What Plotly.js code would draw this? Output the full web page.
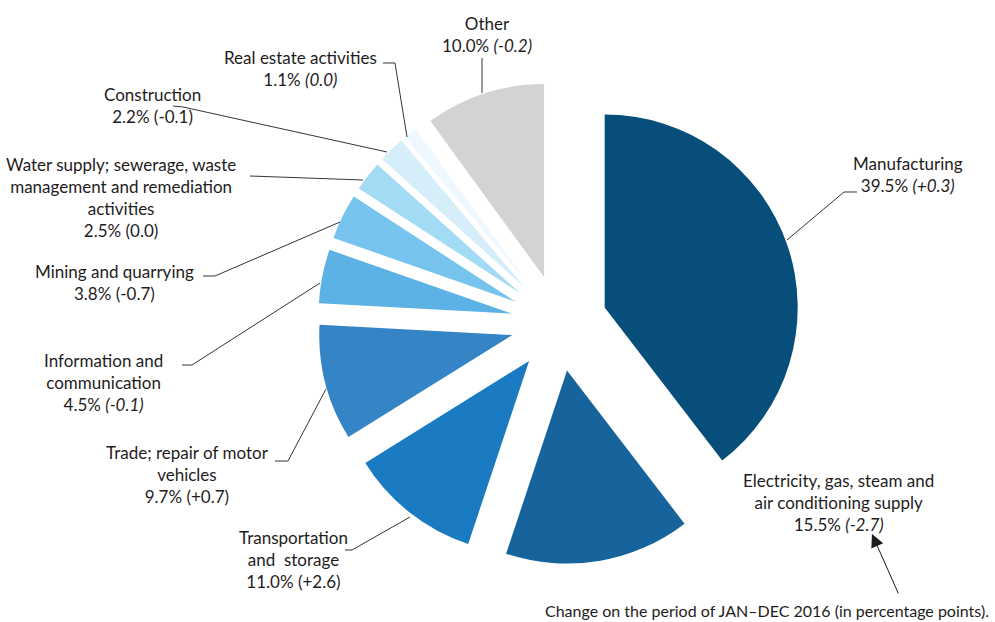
<!DOCTYPE html>
<html>
<head>
<meta charset="utf-8">
<script src="https://cdn.plot.ly/plotly-3.0.1.min.js"></script>
<style>html,body{margin:0;padding:0;background:#fff;}#chart{width:995px;height:622px;}</style>
</head>
<body>
<div id="chart"></div>
<script>
// ---- data ----
const sectors = [
  "Manufacturing",
  "Electricity, gas, steam and air conditioning supply",
  "Transportation and storage",
  "Trade; repair of motor vehicles",
  "Information and communication",
  "Mining and quarrying",
  "Water supply; sewerage, waste management and remediation activities",
  "Construction",
  "Real estate activities",
  "Other"
];
const shares = [39.5, 15.5, 11.0, 9.7, 4.5, 3.8, 2.5, 2.2, 1.1, 10.0];
const changes = ["+0.3", "-2.7", "+2.6", "+0.7", "-0.1", "-0.7", "0.0", "-0.1", "0.0", "-0.2"];
const italicChange = [true, true, false, false, true, false, false, false, true, true];
const labelLines = [
  "Manufacturing",
  "Electricity, gas, steam and<br>air conditioning supply",
  "Transportation<br>and&nbsp; storage",
  "Trade; repair of motor<br>vehicles",
  "Information and<br>communication",
  "Mining and quarrying",
  "Water supply; sewerage, waste<br>management and remediation<br>activities",
  "Construction",
  "Real estate activities",
  "Other"
];
const colors = ["#074e7b", "#17649d", "#1b7bc2", "#3484c6", "#5db2e5", "#76c4ed", "#a3dbf5", "#d6edfa", "#eef8fe", "#d1d3d4"];
const footnote = "Change on the period of JAN\u2013DEC 2016 (in percentage points).";

// ---- layout helpers (pixel -> paper) ----
const W = 995, H = 622;
const px = x => x / W;
const py = y => 1 - y / H;

// label placement (pixel centre of each label block)
const labelPos = [
  [908, 175], [838, 502], [293, 559], [187, 474], [103, 383],
  [114, 282], [121, 197], [152, 106], [300, 68], [487, 35]
];
// leader lines (pixel polylines)
const leaders = [
  [[787, 240], [844, 192], [857, 192]],
  null,
  [[410, 517], [352, 550], [345, 550]],
  [[326, 389], [288, 461], [275, 461]],
  [[320, 283], [192, 365], [182, 365]],
  [[340, 222], [215, 276], [203, 276]],
  [[363, 180], [250, 176]],
  [[387, 152], [183, 107], [173, 106]],
  [[407, 137], [395, 63], [383, 63]],
  [[482, 93], [482, 58]]
];

const font = {family: "Lato, 'Open Sans', sans-serif", size: 17, color: "#1f1c1d"};

const annotations = sectors.map((s, i) => {
  const ch = italicChange[i] ? "<i>(" + changes[i] + ")</i>" : "(" + changes[i] + ")";
  return {
    xref: "paper", yref: "paper",
    x: px(labelPos[i][0]), y: py(labelPos[i][1]),
    xanchor: "center", yanchor: "middle", align: "center",
    text: labelLines[i] + "<br>" + shares[i].toFixed(1) + "% " + ch,
    showarrow: false, font: font
  };
});
annotations.push({
  xref: "paper", yref: "paper",
  x: px(767), y: py(610), xanchor: "center", yanchor: "middle",
  text: footnote, showarrow: false,
  font: {family: font.family, size: 16, color: "#1f1c1d"}
});
annotations.push({
  xref: "paper", yref: "paper",
  x: px(872), y: py(534), text: "", showarrow: true,
  ax: 27, ay: 61, axref: "pixel", ayref: "pixel",
  arrowhead: 2, arrowsize: 2.6, arrowwidth: 1, arrowcolor: "#1f1c1d", standoff: 0
});

const shapes = leaders.filter(l => l).map(l => ({
  type: "path", xref: "paper", yref: "paper",
  path: "M" + l.map(p => px(p[0]).toFixed(5) + "," + py(p[1]).toFixed(5)).join(" L"),
  line: {color: "#1f1c1d", width: 0.9}
}));

const trace = {
  type: "pie",
  labels: sectors,
  values: shares,
  sort: false,
  direction: "clockwise",
  rotation: 0,
  pull: 0.25,
  textinfo: "none",
  hoverinfo: "label+percent",
  marker: {colors: colors, line: {width: 0}},
  domain: {x: [0.3193, 0.8043], y: [0.0928, 0.8686]},
  showlegend: false
};

Plotly.newPlot("chart", [trace], {
  width: W, height: H,
  margin: {l: 0, r: 0, t: 0, b: 0},
  paper_bgcolor: "#ffffff",
  showlegend: false,
  annotations: annotations,
  shapes: shapes
}, {displayModeBar: false, staticPlot: true});
</script>
</body>
</html>
